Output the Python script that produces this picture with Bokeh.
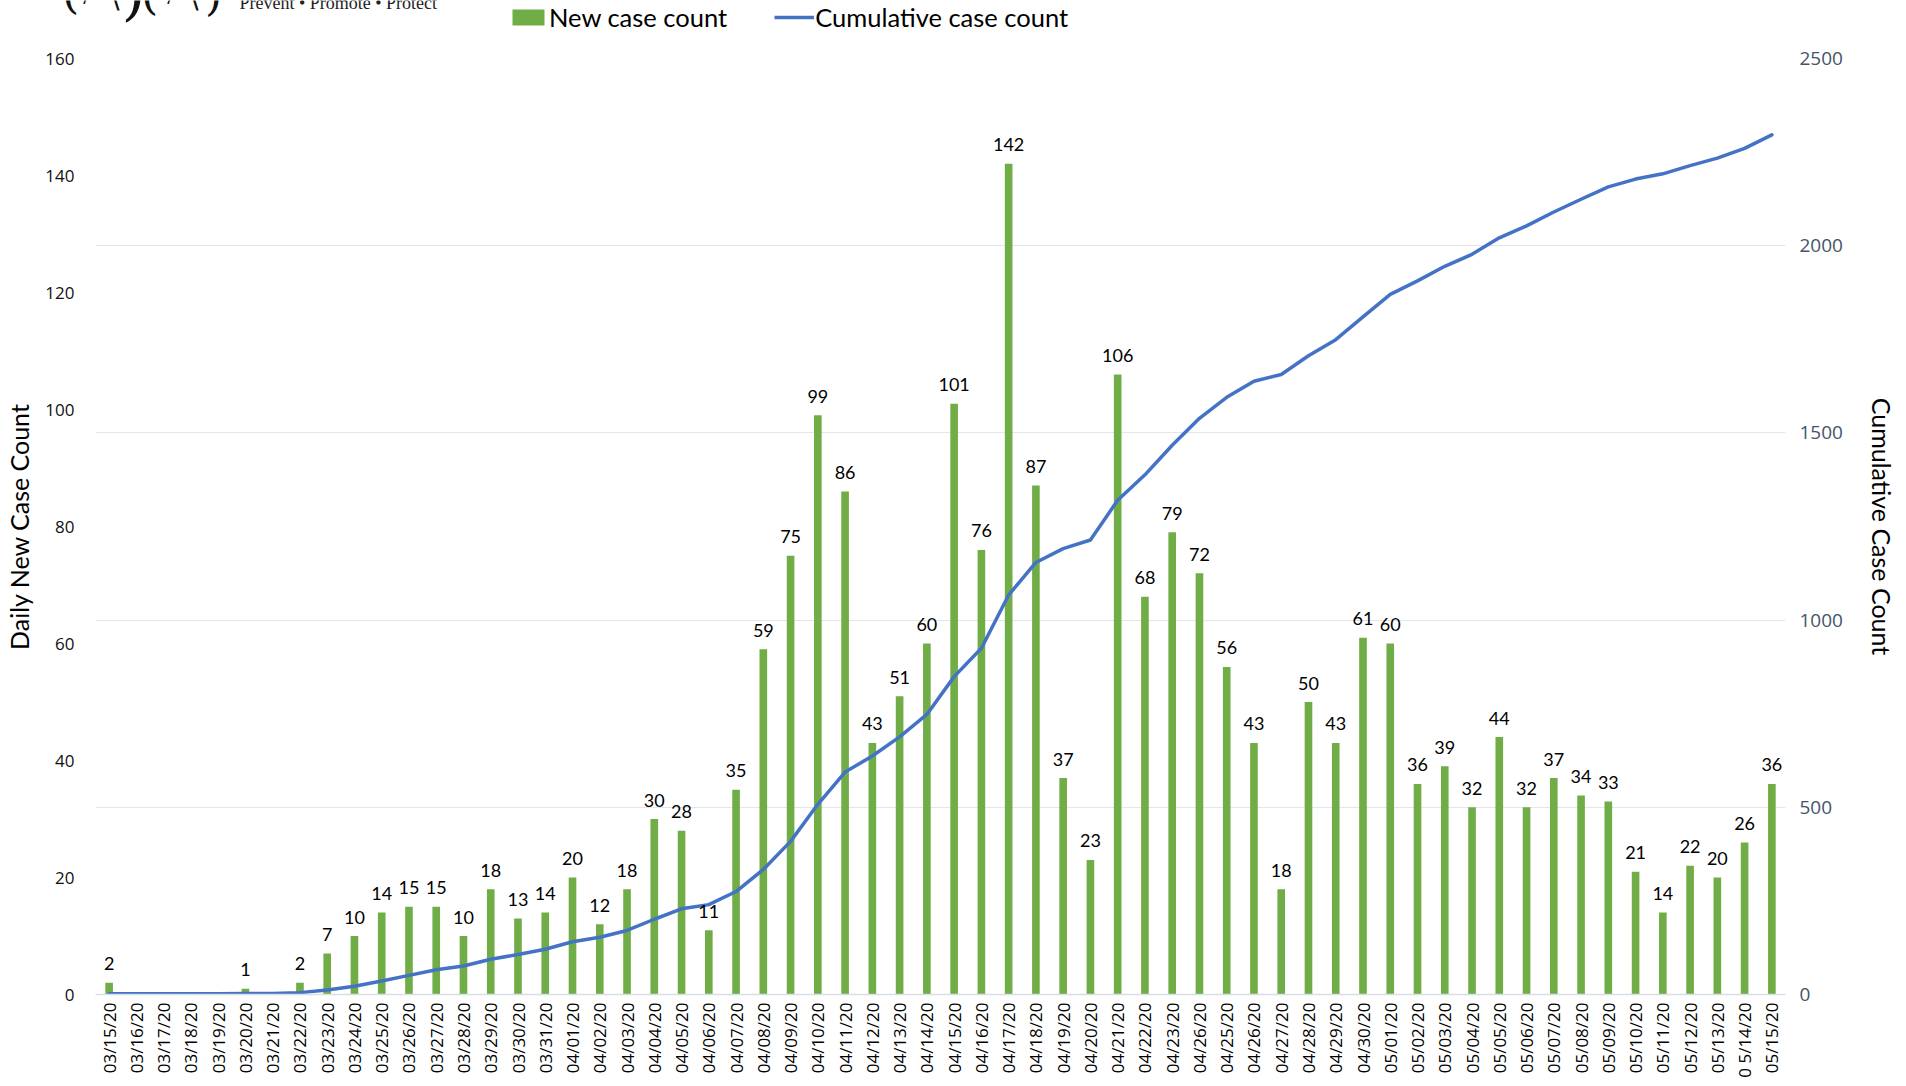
from math import pi
from bokeh.plotting import figure
from bokeh.layouts import column
from bokeh.models import (Range1d, LinearAxis, FixedTicker, Grid, ColumnDataSource,
                          Legend, LegendItem, Label)
from bokeh.core.properties import value
from bokeh.embed import file_html
from bokeh.resources import INLINE

# ---------------- data ----------------
dates = [
    "03/15/20", "03/16/20", "03/17/20", "03/18/20", "03/19/20", "03/20/20", "03/21/20",
    "03/22/20", "03/23/20", "03/24/20", "03/25/20", "03/26/20", "03/27/20", "03/28/20",
    "03/29/20", "03/30/20", "03/31/20", "04/01/20", "04/02/20", "04/03/20", "04/04/20",
    "04/05/20", "04/06/20", "04/07/20", "04/08/20", "04/09/20", "04/10/20", "04/11/20",
    "04/12/20", "04/13/20", "04/14/20", "04/15/20", "04/16/20", "04/17/20", "04/18/20",
    "04/19/20", "04/20/20", "04/21/20", "04/22/20", "04/23/20", "04/26/20", "04/25/20",
    "04/26/20", "04/27/20", "04/28/20", "04/29/20", "04/30/20", "05/01/20", "05/02/20",
    "05/03/20", "05/04/20", "05/05/20", "05/06/20", "05/07/20", "05/08/20", "05/09/20",
    "05/10/20", "05/11/20", "05/12/20", "05/13/20", "0 5/14/20", "05/15/20",
]
new_cases = [
    2, 0, 0, 0, 0, 1, 0, 2, 7, 10, 14, 15, 15, 10, 18, 13, 14,
    20, 12, 18, 30, 28, 11, 35, 59, 75, 99, 86, 43, 51, 60, 101, 76, 142, 87, 37, 23,
    106, 68, 79, 72, 56, 43, 18, 50, 43, 61,
    60, 36, 39, 32, 44, 32, 37, 34, 33, 21, 14, 22, 20, 26, 36,
]
cumulative = [
    2, 2, 2, 2, 2, 3, 3, 5, 12, 22, 36, 51, 66, 76, 94, 107, 121,
    141, 153, 171, 201, 229, 240, 275, 334, 409, 508, 594, 637, 688, 748, 849, 925,
    1067, 1154, 1191, 1214, 1320, 1388, 1467, 1539, 1595, 1638, 1656, 1706, 1749, 1810,
    1870, 1906, 1945, 1977, 2021, 2053, 2090, 2124, 2157, 2178, 2192, 2214, 2234, 2260, 2296,
]
left_ticks = [0, 20, 40, 60, 80, 100, 120, 140, 160]
right_ticks = [0, 500, 1000, 1500, 2000, 2500]
series_names = ["New case count", "Cumulative case count"]
left_title = "Daily New Case Count"
right_title = "Cumulative Case Count"
tagline = "Prevent \u2022 Promote \u2022 Protect"

BAR_COLOR = "#70AD47"
LINE_COLOR = "#4472C4"

# ---------------- page geometry ----------------
W, H = 1906, 1086
TOP_H = 44                                   # header strip (logo + legend)
FL, FR, FT, FB = 95, 1785, 58, 994           # chart frame edges on the page

xs = list(range(len(dates)))
labels = [str(v) if v > 0 else "" for v in new_cases]
src = ColumnDataSource(dict(x=xs, new=new_cases, cum=cumulative, lab=labels))

# ---------------- header strip ----------------
top = figure(width=W, height=TOP_H, x_range=Range1d(0, W), y_range=Range1d(TOP_H, 0),
             min_border=0, min_border_left=0, min_border_right=0,
             min_border_top=0, min_border_bottom=0,
             x_axis_location=None, y_axis_location=None,
             output_backend="svg", toolbar_location=None)
top.frame_align = False
top.outline_line_color = None
top.grid.visible = False
top.background_fill_color = "white"
top.border_fill_color = "white"

# hidden copies of the two series: they only lend their styling to the legend keys
key_bar = top.vbar(x="x", top="new", width=0.28, source=src,
                   fill_color=BAR_COLOR, line_color=None, visible=False)
key_line = top.line(x="x", y="cum", source=src,
                    line_color=LINE_COLOR, line_width=3.5, visible=False)
legend = Legend(items=[LegendItem(label=series_names[0], renderers=[key_bar]),
                       LegendItem(label=series_names[1], renderers=[key_line])],
                orientation="horizontal", location=(508, 9),
                glyph_width=40, glyph_height=20, label_height=36,
                label_standoff=1, spacing=47,
                padding=0, margin=0, border_line_alpha=0, background_fill_alpha=0,
                inactive_fill_alpha=0,
                label_text_font="Lato", label_text_font_size="25.5px",
                label_text_baseline="alphabetic", label_text_color="#000000")
top.add_layout(legend, "center")

top.add_layout(Label(x=239, y=2, text=tagline,
                     text_font="Liberation Serif", text_font_size="18px",
                     text_color="#222222", text_baseline="middle"))
logo_strokes = [("(", 70, 16, 44), ("/", 86, 5, 20), ("\\", 114, 13, 30), (")", 133, 25, 62),
                ("(", 149, 17, 44), ("/", 170, 5, 20), ("\\", 193, 13, 30), (")", 213, 18, 44)]
for ch, cx, bottom, size in logo_strokes:
    top.add_layout(Label(x=cx, y=bottom - 0.55 * size, text=ch,
                         text_font="DejaVu Serif", text_font_size=f"{size}px",
                         text_color="#111111", text_align="center",
                         text_baseline="middle"))

# ---------------- main chart ----------------
MH = H - TOP_H
p = figure(width=W, height=MH,
           x_range=Range1d(-0.5, len(dates) - 0.5),
           y_range=Range1d(left_ticks[0], left_ticks[-1]),
           min_border_left=FL, min_border_right=W - FR,
           min_border_top=FT - TOP_H, min_border_bottom=H - FB,
           output_backend="svg", toolbar_location=None)
p.frame_align = False
p.extra_y_ranges = {"cum": Range1d(right_ticks[0], right_ticks[-1])}
p.outline_line_color = None
p.background_fill_color = "white"
p.border_fill_color = "white"
p.xgrid.visible = False
p.ygrid.visible = False

grid = Grid(dimension=1, ticker=FixedTicker(ticks=right_ticks), y_range_name="cum",
            grid_line_color="#E2E5EC", grid_line_width=1)
p.add_layout(grid)

# x axis
xa = p.xaxis[0]
xa.ticker = FixedTicker(ticks=xs)
xa.major_label_overrides = {i: d for i, d in enumerate(dates)}
xa.major_label_orientation = pi / 2
xa.major_tick_line_color = None
xa.major_tick_out = 0
xa.major_tick_in = 0
xa.minor_tick_line_color = None
xa.minor_tick_out = 0
xa.axis_line_color = "#D9DDE6"
xa.axis_line_width = 1.5
xa.major_label_standoff = 8
xa.major_label_text_font = "Open Sans"
xa.major_label_text_font_size = "17px"
xa.major_label_text_color = "#000000"

# left axis
ya = p.yaxis[0]
ya.ticker = FixedTicker(ticks=left_ticks)
ya.axis_line_color = None
ya.major_tick_line_color = None
ya.major_tick_out = 0
ya.major_tick_in = 0
ya.minor_tick_line_color = None
ya.minor_tick_out = 0
ya.major_label_standoff = 21
ya.major_label_text_font = "Open Sans"
ya.major_label_text_font_size = "17px"
ya.major_label_text_color = "#111111"
ya.axis_label = left_title
ya.axis_label_text_font = "Lato"
ya.axis_label_text_font_style = "normal"
ya.axis_label_text_font_size = "25px"
ya.axis_label_text_color = "#000000"
ya.axis_label_standoff = 8

# right axis
ra = LinearAxis(y_range_name="cum", ticker=FixedTicker(ticks=right_ticks))
ra.axis_line_color = None
ra.major_tick_line_color = None
ra.major_tick_out = 0
ra.major_tick_in = 0
ra.minor_tick_line_color = None
ra.minor_tick_out = 0
ra.major_label_standoff = 14
ra.major_label_text_font = "Open Sans"
ra.major_label_text_font_size = "19px"
ra.major_label_text_color = "#44546A"
ra.axis_label = right_title
ra.axis_label_text_font = "Lato"
ra.axis_label_text_font_style = "normal"
ra.axis_label_text_font_size = "25px"
ra.axis_label_text_color = "#000000"
ra.axis_label_standoff = 21
p.add_layout(ra, "right")

# glyphs
bars = p.vbar(x="x", top="new", width=0.28, source=src,
              fill_color=BAR_COLOR, line_color=None)
line = p.line(x="x", y="cum", source=src, y_range_name="cum",
              line_color=LINE_COLOR, line_width=3.5, line_join="round", line_cap="round")
p.text(x="x", y="new", text="lab", source=src,
       text_font=value("Lato"), text_font_size="18px", text_color="#000000",
       text_align="center", text_baseline="alphabetic", y_offset=-19)

page = column(top, p, spacing=0)
open("out.html", "w").write(file_html(page, INLINE))
